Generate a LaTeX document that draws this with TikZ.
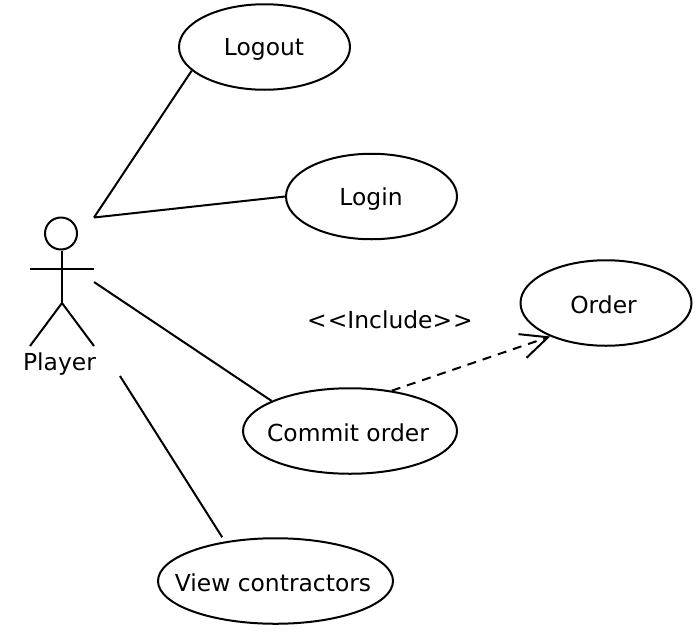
\documentclass[tikz,border=0pt]{standalone}
\usepackage{fontspec}
\setmainfont{DejaVu Sans}
\usetikzlibrary{shapes.geometric,arrows.meta}

\tikzset{
  usecase/.style={ellipse,draw=black,line width=2pt,inner sep=0pt,minimum height=85.5pt},
  caption/.style={inner sep=0pt,font=\fontsize{23.4}{28}\selectfont},
  limb/.style={line width=2pt},
}

\begin{document}
\begin{tikzpicture}[x=1pt,y=-1pt,line width=2pt]

\useasboundingbox (0,0) rectangle (700,632);

%ACTOR
\node[circle,draw=black,line width=2pt,minimum size=32pt,inner sep=0pt](head) at (61,233.5) {};
\coordinate (hip) at (62,303);
\coordinate (armL) at (30,269);
\coordinate (armR) at (94,269);
\coordinate (footL) at (30,346);
\coordinate (footR) at (94,346);
\node[caption](player) at (59.5,364) {Player};
\draw[limb] (head.south -| hip) -- (hip);
\draw[limb] (armL) -- (armR);
\draw[limb] (footL) -- (hip) -- (footR);
%ACTOR

\node[usecase,minimum width=171pt](logout) at (264.5,47) {};
\node[usecase,minimum width=171pt](login) at (371.5,196.5) {};
\node[usecase,minimum width=171pt](order) at (606,303) {};
\node[usecase,minimum width=214pt](commit) at (350,431) {};
\node[usecase,minimum width=235pt](view) at (275.5,581) {};

\node[caption] at (264,49) {Logout};
\node[caption] at (371,199) {Login};
\node[caption] at (603.5,304.5) {Order};
\node[caption] at (348,432.5) {Commit order};
\node[caption] at (273,582.5) {View contractors};
\node[caption](include) at (390,319.5) {{<}\kern1pt{<}Include{>}\kern1pt{>}};

\coordinate (a1) at (94,217.5);
\coordinate (a2) at (94,282);
\coordinate (a3) at (120,376);

\draw (a1) -- (logout.198);
\draw (a1) -- (login.west);
\draw (a2) -- (commit.159);
\draw[shorten >=5pt] (a3) -- (view.142);

\draw[dashed,dash pattern=on 9pt off 7pt,-{Straight Barb[length=27pt,width=25pt,line width=2pt]}] (commit.44) -- (order.211);

\end{tikzpicture}
\end{document}
